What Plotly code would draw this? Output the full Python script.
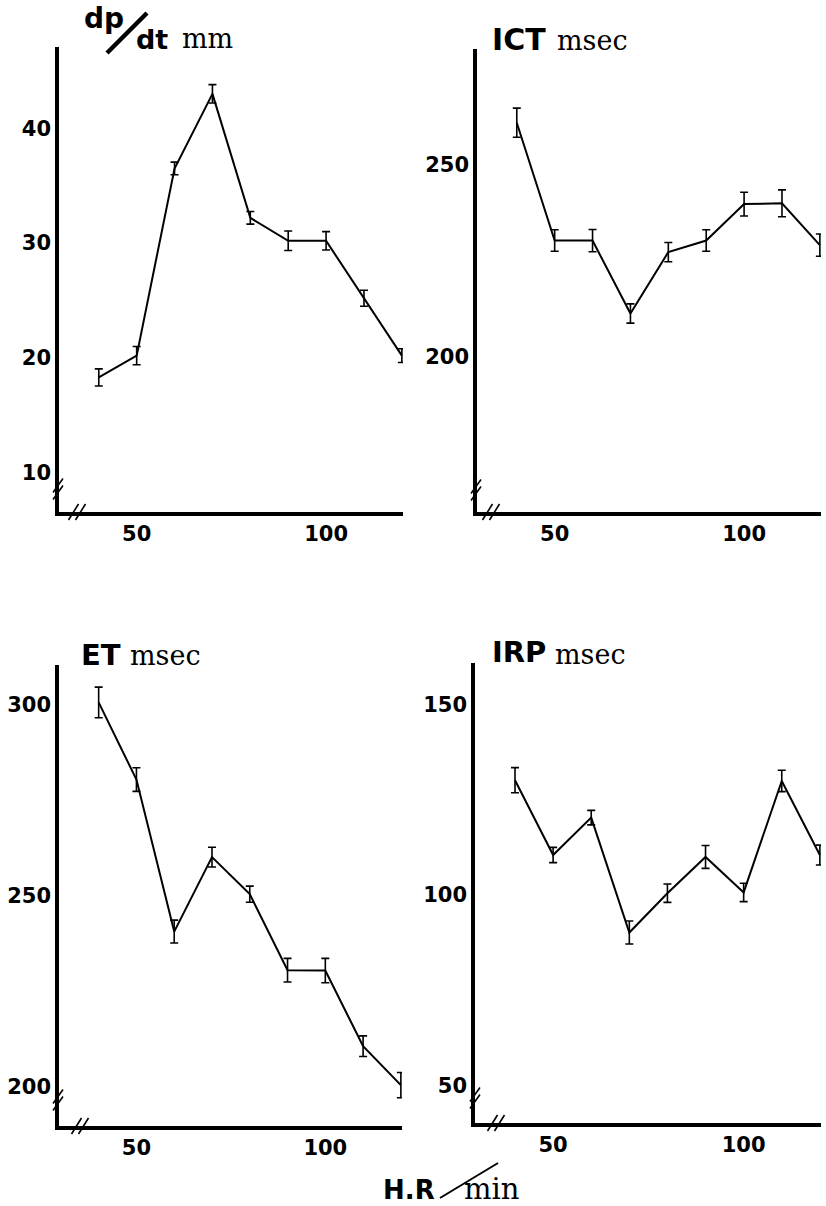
import plotly.graph_objects as go

W, H = 826, 1206

# ---------------- data ----------------
hr = [40, 50, 60, 70, 80, 90, 100, 110, 120]

dpdt = [18.3, 20.2, 36.5, 43.0, 32.2, 30.2, 30.2, 25.2, 20.2]
dpdt_err = [0.75, 0.8, 0.55, 0.8, 0.55, 0.85, 0.8, 0.7, 0.6]

ict = [261.0, 230.3, 230.3, 211.3, 227.3, 230.3, 239.8, 240.0, 229.1]
ict_err = [3.8, 2.8, 2.9, 2.5, 2.5, 2.8, 3.1, 3.5, 2.9]

et = [300.5, 280.3, 240.5, 260.0, 250.3, 230.4, 230.3, 210.5, 200.3]
et_err = [4.0, 3.1, 3.0, 2.6, 2.1, 3.1, 3.2, 2.7, 3.3]

irp = [130.1, 110.5, 120.3, 90.2, 100.5, 110.0, 100.7, 129.9, 110.5]
irp_err = [3.3, 2.0, 1.9, 3.0, 2.4, 3.0, 2.4, 2.8, 2.6]

x_ticks = [50, 100]
y_ticks_dpdt = [10, 20, 30, 40]
y_ticks_ict = [200, 250]
y_ticks_et = [200, 250, 300]
y_ticks_irp = [50, 100, 150]


def X(px):
    return px / W


def Y(py):
    return 1 - py / H


# panel geometry in pixels: (left, right, top, bottom), y-range
panels = [
    dict(xy=(59, 403, 47, 512), yr=[6.58, 47.08], y=dpdt, e=dpdt_err, yt=y_ticks_dpdt,
         ybrk=(58, 489), xbrk=(77, 512)),
    dict(xy=(477, 821, 49, 512), yr=[159.6, 280.2], y=ict, e=ict_err, yt=y_ticks_ict,
         ybrk=(476, 490), xbrk=(491, 512)),
    dict(xy=(59, 402, 665, 1126), yr=[189.6, 310.3], y=et, e=et_err, yt=y_ticks_et,
         ybrk=(58, 1100), xbrk=(80, 1126)),
    dict(xy=(475, 821, 663, 1123), yr=[40.3, 160.8], y=irp, e=irp_err, yt=y_ticks_irp,
         ybrk=(475, 1098), xbrk=(496, 1123)),
]

fig = go.Figure()
tickfont = dict(family="DejaVu Sans", size=21, color="black", weight="bold")
shapes = []

for i, p in enumerate(panels):
    n = "" if i == 0 else str(i + 1)
    l, r, t, b = p["xy"]
    fig.add_trace(go.Scatter(
        x=hr, y=p["y"], mode="lines",
        line=dict(color="black", width=2),
        error_y=dict(type="data", array=p["e"], visible=True,
                     color="black", thickness=1.6, width=4),
        xaxis="x" + n, yaxis="y" + n, cliponaxis=False, showlegend=False,
    ))
    fig.layout["xaxis" + n] = dict(
        domain=[X(l), X(r)], range=[29.5, 120.3], anchor="y" + n,
        showline=True, linewidth=3.5, linecolor="black", showgrid=False,
        zeroline=False, ticks="", tickvals=x_ticks, tickfont=tickfont,
        ticklabelstandoff=0,
    )
    fig.layout["yaxis" + n] = dict(
        domain=[Y(b), Y(t)], range=p["yr"], anchor="x" + n,
        showline=True, linewidth=3.5, linecolor="black", showgrid=False,
        zeroline=False, ticks="", tickvals=p["yt"], tickfont=tickfont,
        ticklabelstandoff=0,
    )
    # axis break marks "//"
    cx, cy = p["ybrk"]
    for d in (-3.5, 3.5):
        shapes.append(dict(type="line", xref="paper", yref="paper",
                           x0=X(cx - 5), y0=Y(cy + d + 7), x1=X(cx + 5), y1=Y(cy + d - 7),
                           line=dict(color="black", width=1.6)))
    cx, cy = p["xbrk"]
    for d in (-3.5, 3.5):
        shapes.append(dict(type="line", xref="paper", yref="paper",
                           x0=X(cx + d - 5), y0=Y(cy + 8), x1=X(cx + d + 5), y1=Y(cy - 8),
                           line=dict(color="black", width=1.6)))

# title slashes
shapes.append(dict(type="line", xref="paper", yref="paper",
                   x0=X(107), y0=Y(53), x1=X(147), y1=Y(13),
                   line=dict(color="black", width=4.5)))
shapes.append(dict(type="line", xref="paper", yref="paper",
                   x0=X(440), y0=Y(1198), x1=X(498), y1=Y(1163),
                   line=dict(color="black", width=2)))

sans = dict(family="DejaVu Sans", color="black", weight="bold")
serif = dict(family="DejaVu Serif", color="black")

texts = [
    ("dp", 82, 18, 28, sans),
    ("dt", 134, 39, 27, sans),
    ("mm", 180, 38.5, 27, serif),
    ("ICT", 490, 39, 30, sans),
    ("msec", 555, 40.5, 27, serif),
    ("ET", 79, 654.5, 29, sans),
    ("msec", 128, 655, 27, serif),
    ("IRP", 490, 652.5, 29, sans),
    ("msec", 553, 654, 27, serif),
    ("H.R", 381, 1190, 26, sans),
    ("min", 462, 1189, 29, serif),
]
annotations = []
for txt, px, py, sz, f in texts:
    annotations.append(dict(text=txt, x=X(px), y=Y(py), xref="paper", yref="paper",
                            xanchor="left", yanchor="middle", showarrow=False,
                            font=dict(size=sz, **f)))

fig.update_layout(
    width=W, height=H, margin=dict(l=0, r=0, t=0, b=0),
    paper_bgcolor="white", plot_bgcolor="white",
    shapes=shapes, annotations=annotations, showlegend=False,
)

# remove the page's default 8 px body margin so the figure fills the window
fig.write_html(
    "out.html",
    config={"displayModeBar": False},
    post_script="document.body.style.margin='0';document.body.style.overflow='hidden';",
)
